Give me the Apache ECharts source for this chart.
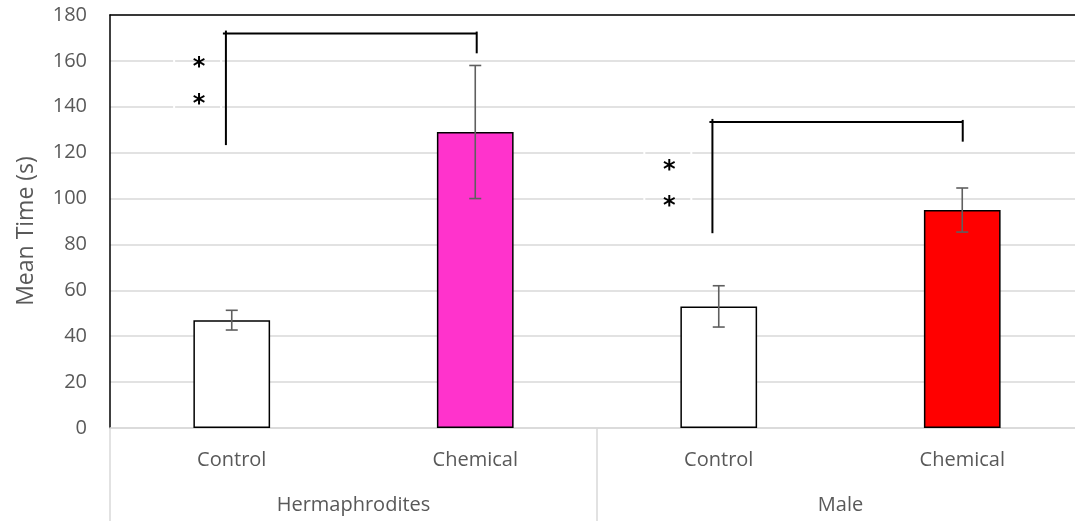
<!DOCTYPE html>
<html>
<head>
<meta charset="utf-8">
<script src="https://cdn.jsdelivr.net/npm/echarts@6/dist/echarts.min.js"></script>
<style>html,body{margin:0;padding:0;background:#fff;overflow:hidden;width:1075px;height:521px}#c{width:1085px;height:521px}</style>
</head>
<body>
<div id="c"></div>
<script>
// ---- data ----
var categories = ['Control', 'Chemical', 'Control', 'Chemical'];
var groups = ['Hermaphrodites', 'Male'];
var meanTime = [47, 129, 53, 95];
var errorSize = [4.3, 29, 9, 9.6];
var yTicks = [0, 20, 40, 60, 80, 100, 120, 140, 160, 180];
// significance brackets (x in category index units, y in seconds)
var bracketLeftX = [-0.024, 1.974];
var bracketRightX = [1.006, 3.002];
var bracketTopY = [171.9, 133.4];
var bracketLeftFootY = [123.3, 84.9];
var bracketRightFootY = [163.3, 124.8];
var starX = [-0.134, 1.797];
var starY = [[159.1, 143.0], [114.3, 98.6]];
var starText = '*';

// ---- styles ----
var barColors = ['#ffffff', '#ff33cc', '#ffffff', '#ff0000'];
var txt = '#595959';
var gridGray = '#d9d9d9';
var font = 'Open Sans';

var chart = echarts.init(document.getElementById('c'), null, {renderer: 'canvas'});

var errData = meanTime.map(function (v, i) { return [i, v - errorSize[i], v + errorSize[i]]; });
var bracketData = bracketLeftX.map(function (x, i) {
  return [x, bracketRightX[i], bracketTopY[i], bracketLeftFootY[i], bracketRightFootY[i]];
});
var starData = [];
starX.forEach(function (x, g) { starY[g].forEach(function (y) { starData.push([x, y, g]); }); });

var option = {
  animation: false,
  backgroundColor: '#fff',
  textStyle: {fontFamily: font},
  grid: {left: 110, right: 1, top: 15, bottom: 93, containLabel: false},
  xAxis: [
    {
      type: 'category', data: categories, position: 'bottom',
      axisLine: {lineStyle: {color: gridGray, width: 1.5}},
      axisTick: {show: false},
      axisLabel: {margin: 22, fontSize: 20, color: txt, fontFamily: font},
      splitLine: {show: false}
    },
    {
      type: 'category', data: groups, position: 'bottom',
      axisLine: {show: false},
      axisTick: {show: true, length: 93, lineStyle: {color: gridGray, width: 1.5}},
      axisLabel: {margin: 67, fontSize: 20, color: txt, fontFamily: font},
      splitLine: {show: false}
    },
    {
      type: 'category', data: categories, position: 'top',
      axisLine: {show: true, lineStyle: {color: '#000', width: 1.5}},
      axisTick: {show: false}, axisLabel: {show: false}, splitLine: {show: false}
    },
    {type: 'value', min: -0.5, max: 3.5, show: false}
  ],
  yAxis: {
    type: 'value', min: yTicks[0], max: yTicks[yTicks.length - 1], interval: yTicks[1] - yTicks[0],
    axisLine: {show: true, onZero: false, lineStyle: {color: '#000', width: 1.5}},
    axisTick: {show: false},
    axisLabel: {margin: 23, fontSize: 20, color: txt, fontFamily: font},
    splitLine: {lineStyle: {color: gridGray, width: 1.5}},
    name: 'Mean Time (s)', nameLocation: 'middle', nameGap: 72,
    nameTextStyle: {fontSize: 23, color: txt, fontFamily: font, padding: [0, 19, 0, 0]}
  },
  series: [
    {
      type: 'bar', xAxisIndex: 0, yAxisIndex: 0, barWidth: '31.5%',
      data: meanTime.map(function (v, i) {
        return {value: v, itemStyle: {color: barColors[i]}};
      }),
      itemStyle: {borderColor: '#000', borderWidth: 1.5},
      z: 2
    },
    {
      type: 'custom', xAxisIndex: 0, yAxisIndex: 0, data: errData, z: 3,
      encode: {x: 0, y: [1, 2]},
      renderItem: function (params, api) {
        var lo = api.coord([api.value(0), api.value(1)]);
        var hi = api.coord([api.value(0), api.value(2)]);
        var x = hi[0], c = 6;
        var st = {stroke: '#5f5f5f', lineWidth: 1.6};
        return {type: 'group', children: [
          {type: 'line', shape: {x1: x, y1: hi[1], x2: x, y2: lo[1]}, style: st},
          {type: 'line', shape: {x1: x - c, y1: hi[1], x2: x + c, y2: hi[1]}, style: st},
          {type: 'line', shape: {x1: x - c, y1: lo[1], x2: x + c, y2: lo[1]}, style: st}
        ]};
      }
    },
    {
      type: 'custom', xAxisIndex: 3, yAxisIndex: 0, data: bracketData, z: 4,
      encode: {x: [0, 1], y: [2, 3, 4]},
      renderItem: function (params, api) {
        var lf = api.coord([api.value(0), api.value(3)]);
        var lt = api.coord([api.value(0), api.value(2)]);
        var rt = api.coord([api.value(1), api.value(2)]);
        var rf = api.coord([api.value(1), api.value(4)]);
        var st = {stroke: '#000', lineWidth: 2, fill: null};
        return {type: 'group', children: [
          {type: 'line', shape: {x1: lf[0], y1: lf[1], x2: lt[0], y2: lt[1] - 3}, style: st},
          {type: 'line', shape: {x1: lt[0] - 3, y1: lt[1], x2: rt[0], y2: rt[1]}, style: st},
          {type: 'line', shape: {x1: rt[0], y1: rt[1] - 2, x2: rf[0], y2: rf[1]}, style: st}
        ]};
      }
    },
    {
      type: 'custom', xAxisIndex: 3, yAxisIndex: 0, data: starData, z: 4,
      encode: {x: 0, y: 1},
      renderItem: function (params, api) {
        var p = api.coord([api.value(0), api.value(1)]);
        var els = [{type: 'text', x: p[0], y: p[1] + 5,
          style: {text: starText, fontSize: 24, fontWeight: 'bold', fontFamily: 'DejaVu Sans', fill: '#000',
                  align: 'center', verticalAlign: 'middle'}}];
        var g = api.value(2);
        if (params.dataIndex === 0 || starData[params.dataIndex - 1][2] !== g) {
          els.push({type: 'line', shape: {x1: p[0] - 25, y1: p[1] - 20, x2: p[0] - 25, y2: p[1] + 60},
                    style: {stroke: '#fff', lineWidth: 2}});
          els.push({type: 'line', shape: {x1: p[0] + 22, y1: p[1] - 20, x2: p[0] + 22, y2: p[1] + 60},
                    style: {stroke: '#fff', lineWidth: 2}});
        }
        return {type: 'group', children: els};
      }
    }
  ]
};
chart.setOption(option);
</script>
</body>
</html>
